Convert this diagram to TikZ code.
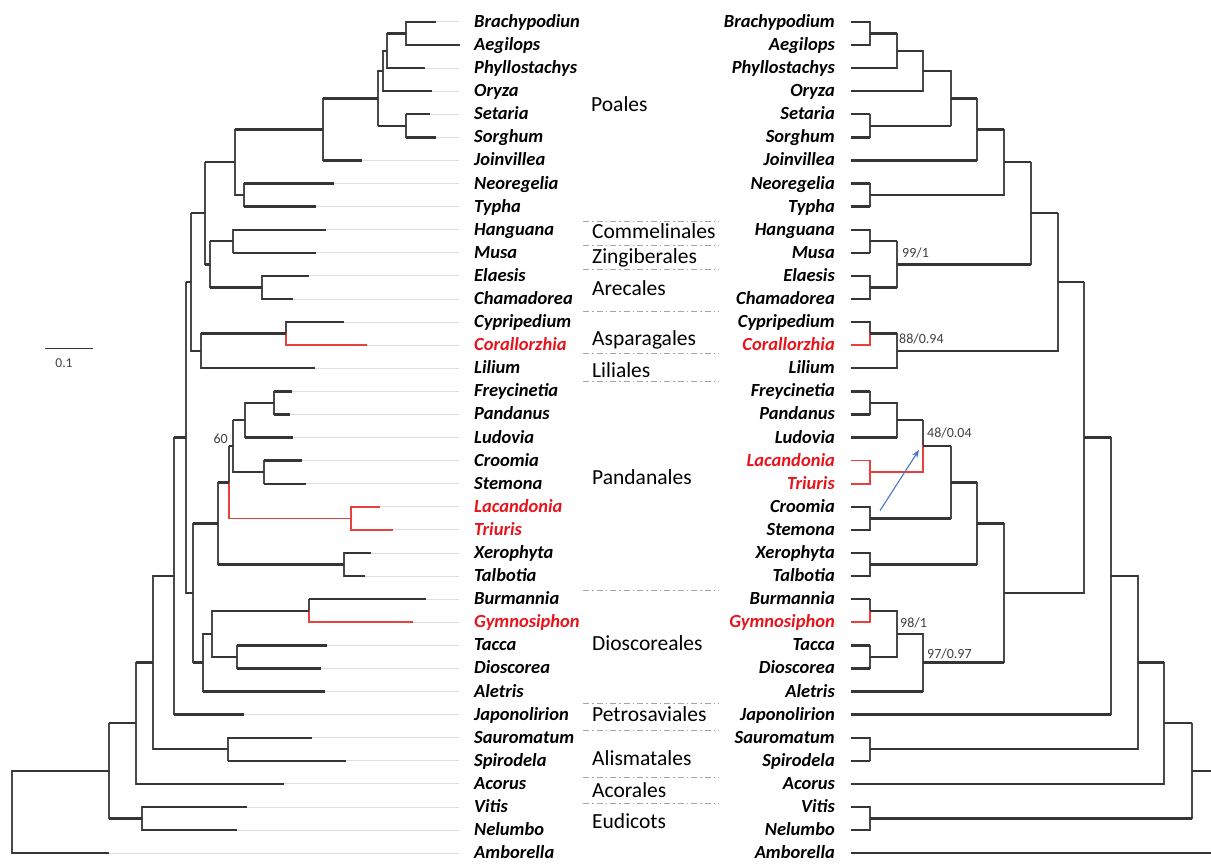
\documentclass[tikz,border=0pt]{standalone}
\usepackage{fontspec}
\setmainfont{Carlito}
\usetikzlibrary{arrows.meta}
\definecolor{tree}{HTML}{353535}
\definecolor{treev}{HTML}{4A4A4A}
\definecolor{redb}{HTML}{E8403C}
\definecolor{redt}{HTML}{E8141B}
\definecolor{extc}{HTML}{DDDDDD}
\definecolor{dshc}{HTML}{9DA6B5}
\definecolor{supc}{HTML}{404040}
\definecolor{arrc}{HTML}{4A78C2}
\newcommand\tbr[3][]{%
  \draw[vl,#1] (#2) -- (#2 |- #3);
  \draw[hl,#1] (#2 |- #3) -- (#3);
}
\begin{document}
\begin{tikzpicture}[x=1pt,y=-0.9953pt,
  vl/.style={draw=treev,line width=1.3pt,line cap=rect},
  hl/.style={draw=tree,line width=2.4pt},
  rd/.style={draw=redb,line width=1.6pt},
  lab/.style={font=\fontsize{18.5}{20}\selectfont\bfseries\itshape,inner sep=0pt,anchor=base west},
  rlab/.style={font=\fontsize{18.5}{20}\selectfont\bfseries\itshape,inner sep=0pt,anchor=base east},
  ord/.style={font=\fontsize{21.5}{24}\selectfont,inner sep=0pt,anchor=base west},
  sup/.style={font=\fontsize{14}{16}\selectfont,text=supc,inner sep=0pt,anchor=base west},
  extl/.style={draw=extc,line width=0.9pt},
  dsh/.style={draw=dshc,line width=0.8pt,dash pattern=on 6pt off 3pt on 1.5pt off 3pt}]
\fill[white] (0pt,0pt) rectangle (1211pt,-863pt);
\useasboundingbox (0pt,0pt) rectangle (1211pt,-863pt);

% ---------- left tree: leaves ----------
\foreach \i/\x/\n/\c in {0/436/Brachypodiun/black,1/460/Aegilops/black,2/425/Phyllostachys/black,
  3/432/Oryza/black,4/430/Setaria/black,5/436/Sorghum/black,6/362/Joinvillea/black,
  7/334/Neoregelia/black,8/316/Typha/black,9/326/Hanguana/black,10/316/Musa/black,
  11/309/Elaesis/black,12/293/Chamadorea/black,13/344/Cypripedium/black,14/367/Corallorzhia/redt,
  15/315/Lilium/black,16/292/Freycinetia/black,17/290/Pandanus/black,18/293/Ludovia/black,
  19/302/Croomia/black,20/306/Stemona/black,21/380/Lacandonia/redt,22/393/Triuris/redt,
  23/371/Xerophyta/black,24/365/Talbotia/black,25/426/Burmannia/black,26/413/Gymnosiphon/redt,
  27/327/Tacca/black,28/321/Dioscorea/black,29/325/Aletris/black,30/244/Japonolirion/black,
  31/312/Sauromatum/black,32/346/Spirodela/black,33/284/Acorus/black,34/247/Vitis/black,
  35/237/Nelumbo/black,36/109/Amborella/black}{
  \coordinate (a\i) at (\x,{22+23.2*\i});
  \node[lab,text=\c] (la\i) at (474,{27.5+23.2*\i}) {\n};
  \draw[extl] (a\i) -- ([xshift=-15pt]la\i.west |- a\i);
}

% ---------- left tree: internal nodes ----------
\coordinate (nBA) at (406,33.6);   \tbr{nBA}{a0} \tbr{nBA}{a1}
\coordinate (nBAP) at (387,51);    \tbr{nBAP}{nBA} \tbr{nBAP}{a2}
\coordinate (nBAPO) at (383,71.3); \tbr{nBAPO}{nBAP} \tbr{nBAPO}{a3}
\coordinate (nSS) at (406,126.4);  \tbr{nSS}{a4} \tbr{nSS}{a5}
\coordinate (nPo1) at (378,98.9);  \tbr{nPo1}{nBAPO} \tbr{nPo1}{nSS}
\coordinate (nPo2) at (323,130);   \tbr{nPo2}{nPo1} \tbr{nPo2}{a6}
\coordinate (nNT) at (244,196);    \tbr{nNT}{a7} \tbr{nNT}{a8}
\coordinate (nPoales) at (235,163); \tbr{nPoales}{nPo2} \tbr{nPoales}{nNT}
\coordinate (nHM) at (233,242.4);  \tbr{nHM}{a9} \tbr{nHM}{a10}
\coordinate (nEC) at (262,288.8);  \tbr{nEC}{a11} \tbr{nEC}{a12}
\coordinate (nZA) at (210,265.6);  \tbr{nZA}{nHM} \tbr{nZA}{nEC}
\coordinate (nComm) at (205,214.3); \tbr{nComm}{nPoales} \tbr{nComm}{nZA}
\coordinate (nCC) at (286,335.2);  \tbr{nCC}{a13} \tbr[rd]{nCC}{a14}
\coordinate (nAL) at (201,352.6);  \tbr{nAL}{nCC} \tbr{nAL}{a15}
\coordinate (nCA) at (191,283.5);  \tbr{nCA}{nComm} \tbr{nCA}{nAL}
\coordinate (nFP) at (274,404.8);  \tbr{nFP}{a16} \tbr{nFP}{a17}
\coordinate (nFPL) at (245,422.2); \tbr{nFPL}{nFP} \tbr{nFPL}{a18}
\coordinate (nCS) at (264,474.4);  \tbr{nCS}{a19} \tbr{nCS}{a20}
\coordinate (nFPLCS) at (233,448.3); \tbr{nFPLCS}{nFPL} \tbr{nFPLCS}{nCS}
\coordinate (nLT) at (351,520.8);  \tbr[rd]{nLT}{a21} \tbr[rd]{nLT}{a22}
\coordinate (n60) at (229,484.6);  \tbr{n60}{nFPLCS} \tbr[rd]{n60}{nLT}
\coordinate (nXT) at (344,567.2);  \tbr{nXT}{a23} \tbr{nXT}{a24}
\coordinate (nPand) at (218,525.9); \tbr{nPand}{n60} \tbr{nPand}{nXT}
\coordinate (nBG) at (309,613.6);  \tbr{nBG}{a25} \tbr[rd]{nBG}{a26}
\coordinate (nTD) at (237,660);    \tbr{nTD}{a27} \tbr{nTD}{a28}
\coordinate (nBGTD) at (212,636.8); \tbr{nBGTD}{nBG} \tbr{nBGTD}{nTD}
\coordinate (nDio) at (203,665.8); \tbr{nDio}{nBGTD} \tbr{nDio}{a29}
\coordinate (nPD) at (193,595.9);  \tbr{nPD}{nPand} \tbr{nPD}{nDio}
\coordinate (nCAPD) at (186,439.7); \tbr{nCAPD}{nCA} \tbr{nCAPD}{nPD}
\coordinate (nPet) at (174,578.8); \tbr{nPet}{nCAPD} \tbr{nPet}{a30}
\coordinate (nAS) at (228,752.8);  \tbr{nAS}{a31} \tbr{nAS}{a32}
\coordinate (nAli) at (153,665.8); \tbr{nAli}{nPet} \tbr{nAli}{nAS}
\coordinate (nAco) at (136,726.7); \tbr{nAco}{nAli} \tbr{nAco}{a33}
\coordinate (nVN) at (142,822.4);  \tbr{nVN}{a34} \tbr{nVN}{a35}
\coordinate (nEud) at (109,774.5); \tbr{nEud}{nAco} \tbr{nEud}{nVN}
\coordinate (nRoot) at (12,815.9); \tbr{nRoot}{nEud} \tbr{nRoot}{a36}

\node[sup,anchor=base east] (s60) at (228,446) {60};

% scale bar
\coordinate (sbA) at (45,350); \coordinate (sbB) at (93,350);
\draw[draw=tree,line width=1.4pt] (sbA) -- (sbB);
\node[font=\fontsize{13.5}{15}\selectfont,text=supc,inner sep=0pt,anchor=base] (sbl) at (64,369) {0.1};

% ---------- orders ----------
\foreach \y in {222,247,271,313,355,383,593,707,734,781,807}{
  \draw[dsh] (583,\y) -- (719,\y);
}
\node[ord] (oPo) at (591,112) {Poales};
\node[ord] (oCo) at (592,240) {Commelinales};
\node[ord] (oZi) at (592,265) {Zingiberales};
\node[ord] (oAr) at (592,297) {Arecales};
\node[ord] (oAs) at (592,347) {Asparagales};
\node[ord] (oLi) at (592,379) {Liliales};
\node[ord] (oPa) at (592,487) {Pandanales};
\node[ord] (oDi) at (592,654) {Dioscoreales};
\node[ord] (oPe) at (592,725) {Petrosaviales};
\node[ord] (oAl) at (592,769) {Alismatales};
\node[ord] (oAc) at (592,801) {Acorales};
\node[ord] (oEu) at (592,832) {Eudicots};

% ---------- right tree: leaves ----------
\foreach \i/\n/\c in {0/Brachypodium/black,1/Aegilops/black,2/Phyllostachys/black,
  3/Oryza/black,4/Setaria/black,5/Sorghum/black,6/Joinvillea/black,
  7/Neoregelia/black,8/Typha/black,9/Hanguana/black,10/Musa/black,
  11/Elaesis/black,12/Chamadorea/black,13/Cypripedium/black,14/Corallorzhia/redt,
  15/Lilium/black,16/Freycinetia/black,17/Pandanus/black,18/Ludovia/black,
  19/Lacandonia/redt,20/Triuris/redt,21/Croomia/black,22/Stemona/black,
  23/Xerophyta/black,24/Talbotia/black,25/Burmannia/black,26/Gymnosiphon/redt,
  27/Tacca/black,28/Dioscorea/black,29/Aletris/black,30/Japonolirion/black,
  31/Sauromatum/black,32/Spirodela/black,33/Acorus/black,34/Vitis/black,
  35/Nelumbo/black,36/Amborella/black}{
  \node[rlab,text=\c] (rl\i) at (835,{27.5+23.2*\i}) {\n};
  \coordinate (b\i) at (851,{22+23.2*\i});
}

% ---------- right tree: internal nodes ----------
\coordinate (rBA) at (870,33.6);    \tbr{rBA}{b0} \tbr{rBA}{b1}
\coordinate (rBAP) at (897,51);     \tbr{rBAP}{rBA} \tbr{rBAP}{b2}
\coordinate (rBAPO) at (923,71.3);  \tbr{rBAPO}{rBAP} \tbr{rBAPO}{b3}
\coordinate (rSS) at (870,126.4);   \tbr{rSS}{b4} \tbr{rSS}{b5}
\coordinate (rPo1) at (951,98.9);   \tbr{rPo1}{rBAPO} \tbr{rPo1}{rSS}
\coordinate (rPo2) at (977,130);    \tbr{rPo2}{rPo1} \tbr{rPo2}{b6}
\coordinate (rNT) at (870,196);     \tbr{rNT}{b7} \tbr{rNT}{b8}
\coordinate (rPoales) at (1004,163); \tbr{rPoales}{rPo2} \tbr{rPoales}{rNT}
\coordinate (rHM) at (870,242.4);   \tbr{rHM}{b9} \tbr{rHM}{b10}
\coordinate (rEC) at (870,288.8);   \tbr{rEC}{b11} \tbr{rEC}{b12}
\coordinate (rZA) at (897,265.6);   \tbr{rZA}{rHM} \tbr{rZA}{rEC}
\coordinate (rComm) at (1031,214.3); \tbr{rComm}{rPoales} \tbr{rComm}{rZA}
\coordinate (rCC) at (870,335.2);   \tbr{rCC}{b13} \tbr[rd]{rCC}{b14}
\coordinate (rAL) at (897,352.6);   \tbr{rAL}{rCC} \tbr{rAL}{b15}
\coordinate (rCA) at (1058,283.5);  \tbr{rCA}{rComm} \tbr{rCA}{rAL}
\coordinate (rFP) at (870,404.8);   \tbr{rFP}{b16} \tbr{rFP}{b17}
\coordinate (rFPL) at (897,422.2);  \tbr{rFPL}{rFP} \tbr{rFPL}{b18}
\coordinate (rLT) at (870,474.4);   \tbr[rd]{rLT}{b19} \tbr[rd]{rLT}{b20}
\coordinate (rFL) at (923,448.3);   \tbr{rFL}{rFPL} \tbr[rd]{rFL}{rLT}
\coordinate (rCS) at (870,520.8);   \tbr{rCS}{b21} \tbr{rCS}{b22}
\coordinate (rP1) at (951,484.6);   \tbr{rP1}{rFL} \tbr{rP1}{rCS}
\coordinate (rXT) at (870,567.2);   \tbr{rXT}{b23} \tbr{rXT}{b24}
\coordinate (rPand) at (977,525.9); \tbr{rPand}{rP1} \tbr{rPand}{rXT}
\coordinate (rBG) at (870,613.6);   \tbr{rBG}{b25} \tbr[rd]{rBG}{b26}
\coordinate (rTD) at (870,660);     \tbr{rTD}{b27} \tbr{rTD}{b28}
\coordinate (rBGTD) at (897,636.8); \tbr{rBGTD}{rBG} \tbr{rBGTD}{rTD}
\coordinate (rDio) at (923,665.8);  \tbr{rDio}{rBGTD} \tbr{rDio}{b29}
\coordinate (rPD) at (1004,595.9);  \tbr{rPD}{rPand} \tbr{rPD}{rDio}
\coordinate (rCAPD) at (1084,439.7); \tbr{rCAPD}{rCA} \tbr{rCAPD}{rPD}
\coordinate (rPet) at (1111,578.8); \tbr{rPet}{rCAPD} \tbr{rPet}{b30}
\coordinate (rAS) at (870,752.8);   \tbr{rAS}{b31} \tbr{rAS}{b32}
\coordinate (rAli) at (1138,665.8); \tbr{rAli}{rPet} \tbr{rAli}{rAS}
\coordinate (rAco) at (1164,726.7); \tbr{rAco}{rAli} \tbr{rAco}{b33}
\coordinate (rVN) at (870,822.4);   \tbr{rVN}{b34} \tbr{rVN}{b35}
\coordinate (rEud) at (1192,774.5); \tbr{rEud}{rAco} \tbr{rEud}{rVN}
\coordinate (rRoot) at (1215,815.9); \tbr{rRoot}{rEud} \tbr{rRoot}{b36}

% support values
\node[sup] (s99) at (902,259) {99/1};
\node[sup] (s88) at (899,345) {88/0.94};
\node[sup] (s48) at (927,440) {48/0.04};
\node[sup] (s98) at (900,630) {98/1};
\node[sup] (s97) at (927,662) {97/0.97};

% arrow
\coordinate (arS) at (880,513);
\coordinate (arE) at (919,452);
\draw[draw=arrc,line width=1.1pt,-{Stealth[length=8pt,width=6pt]}] (arS) -- (arE);
\end{tikzpicture}
\end{document}
